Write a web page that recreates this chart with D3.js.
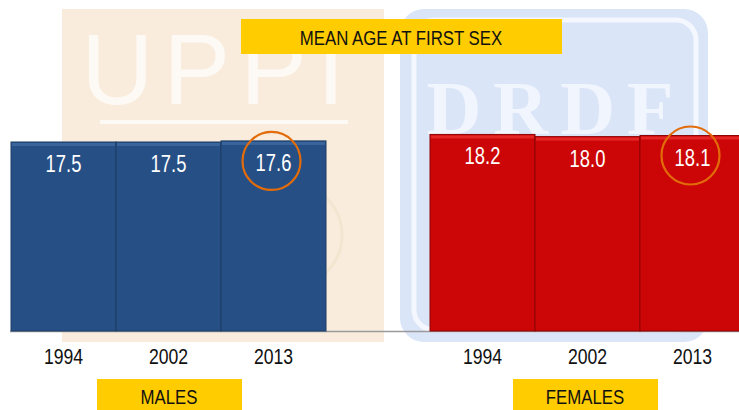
<!DOCTYPE html>
<html lang="en">
<head>
<meta charset="utf-8">
<title>Mean age at first sex</title>
<script src="https://d3js.org/d3.v7.min.js"></script>
<style>
  body { margin: 0; background: #fff; }
  text { font-family: "Liberation Sans Narrow", "Arial Narrow", "Liberation Sans", Arial, sans-serif; }
</style>
</head>
<body>
<script>
// data
var years = ["1994", "2002", "2013"];
var males = [17.5, 17.5, 17.6];
var females = [18.2, 18.0, 18.1];
var groupLabels = ["MALES", "FEMALES"];
var title = "MEAN AGE AT FIRST SEX";

var w = 739, h = 410;
var baseY = 331;
var squeeze = 0.8; // fake a narrow font

var svg = d3.select("body").append("svg")
  .attr("width", w).attr("height", h);

// place a text at x,y squeezed horizontally
function narrow(x, y) {
  return "translate(" + x + "," + y + ") scale(" + squeeze + ",1)";
}

// watermark backgrounds
svg.append("rect").attr("x", 62).attr("y", 9).attr("width", 322).attr("height", 333)
  .attr("fill", "#f9ecdc");
svg.append("text").attr("x", 218).attr("y", 104).attr("text-anchor", "middle")
  .style("font-family", "Liberation Sans, sans-serif")
  .attr("font-size", 100).attr("fill", "#fdf9f4").attr("letter-spacing", 10)
  .text("UPPI");
svg.append("rect").attr("x", 100).attr("y", 120).attr("width", 248).attr("height", 4)
  .attr("fill", "#fdf9f4");
svg.append("circle").attr("cx", 290).attr("cy", 235).attr("r", 52)
  .attr("fill", "none").attr("stroke", "#f3e5cf").attr("stroke-width", 3);

svg.append("rect").attr("x", 400).attr("y", 9).attr("width", 308).attr("height", 333)
  .attr("rx", 24).attr("fill", "#dbe5f8");
svg.append("rect").attr("x", 414).attr("y", 20).attr("width", 282).attr("height", 310)
  .attr("rx", 20).attr("fill", "none").attr("stroke", "#f4f7fd").attr("stroke-width", 5);
svg.append("text").attr("x", 556).attr("y", 134).attr("text-anchor", "middle")
  .style("font-family", "Liberation Serif, serif").attr("font-weight", "bold")
  .attr("font-size", 76).attr("letter-spacing", 12).attr("fill", "#f1f5fd")
  .text("DRDF");

// scales
var y = d3.scaleLinear().domain([0, 30]).range([baseY, baseY - 324]);
var xM = d3.scaleBand().domain(years).range([11, 326]).padding(0);
var xF = d3.scaleBand().domain(years).range([430, 745]).padding(0);

function drawGroup(xs, vals, fill, light, dark, cls) {
  var g = svg.append("g").attr("class", cls);
  var d = years.map(function(yr, i) { return {year: yr, v: vals[i]}; });
  var mid = function(e) { return xs(e.year) + xs.bandwidth() / 2; };

  g.selectAll("rect.bar").data(d).enter().append("rect")
    .attr("class", "bar")
    .attr("x", function(e) { return xs(e.year); })
    .attr("y", function(e) { return y(e.v); })
    .attr("width", xs.bandwidth())
    .attr("height", function(e) { return baseY - y(e.v); })
    .attr("fill", fill)
    .attr("stroke", dark).attr("stroke-width", 1);

  // bevel on top edge
  g.selectAll("rect.top").data(d).enter().append("rect")
    .attr("class", "top")
    .attr("x", function(e) { return xs(e.year) + 1; })
    .attr("y", function(e) { return y(e.v) + 1; })
    .attr("width", xs.bandwidth() - 2)
    .attr("height", 3)
    .attr("fill", light);

  g.selectAll("text.val").data(d).enter().append("text")
    .attr("class", "val")
    .attr("transform", function(e) { return narrow(mid(e), y(e.v) + 30); })
    .attr("text-anchor", "middle")
    .attr("font-size", 23).attr("fill", "#fff")
    .text(function(e) { return e.v.toFixed(1); });

  g.selectAll("text.yr").data(d).enter().append("text")
    .attr("class", "yr")
    .attr("transform", function(e) { return narrow(mid(e), 364); })
    .attr("text-anchor", "middle")
    .attr("font-size", 22).attr("fill", "#111")
    .text(function(e) { return e.year; });

  // highlight circle on latest year
  var last = d[d.length - 1];
  g.append("circle")
    .attr("cx", mid(last) - 2)
    .attr("cy", y(last.v) + 20)
    .attr("r", 29)
    .attr("fill", "none").attr("stroke", "#e36c0a").attr("stroke-width", 2.2);
}

// baseline
svg.append("line").attr("x1", 10).attr("x2", w).attr("y1", baseY + 0.5).attr("y2", baseY + 0.5)
  .attr("stroke", "#9a9a9a").attr("stroke-width", 1.5);

drawGroup(xM, males, "#265085", "#3a659c", "#1d3d66", "males");
drawGroup(xF, females, "#cc0606", "#e32626", "#8e0404", "females");

// title box
svg.append("rect").attr("x", 241).attr("y", 19).attr("width", 321).attr("height", 35).attr("fill", "#ffcc00");
svg.append("text").attr("transform", narrow(401, 45)).attr("text-anchor", "middle")
  .attr("font-size", 21).attr("fill", "#111").text(title);

// group label boxes
var boxes = [{x: 97, label: groupLabels[0]}, {x: 513, label: groupLabels[1]}];
svg.selectAll("rect.lab").data(boxes).enter().append("rect")
  .attr("class", "lab")
  .attr("x", function(b) { return b.x; }).attr("y", 379)
  .attr("width", 145).attr("height", 31).attr("fill", "#ffcc00");
svg.selectAll("text.lab").data(boxes).enter().append("text")
  .attr("class", "lab")
  .attr("transform", function(b) { return narrow(b.x + 72, 404); })
  .attr("text-anchor", "middle")
  .attr("font-size", 21).attr("fill", "#111")
  .text(function(b) { return b.label; });
</script>
</body>
</html>
